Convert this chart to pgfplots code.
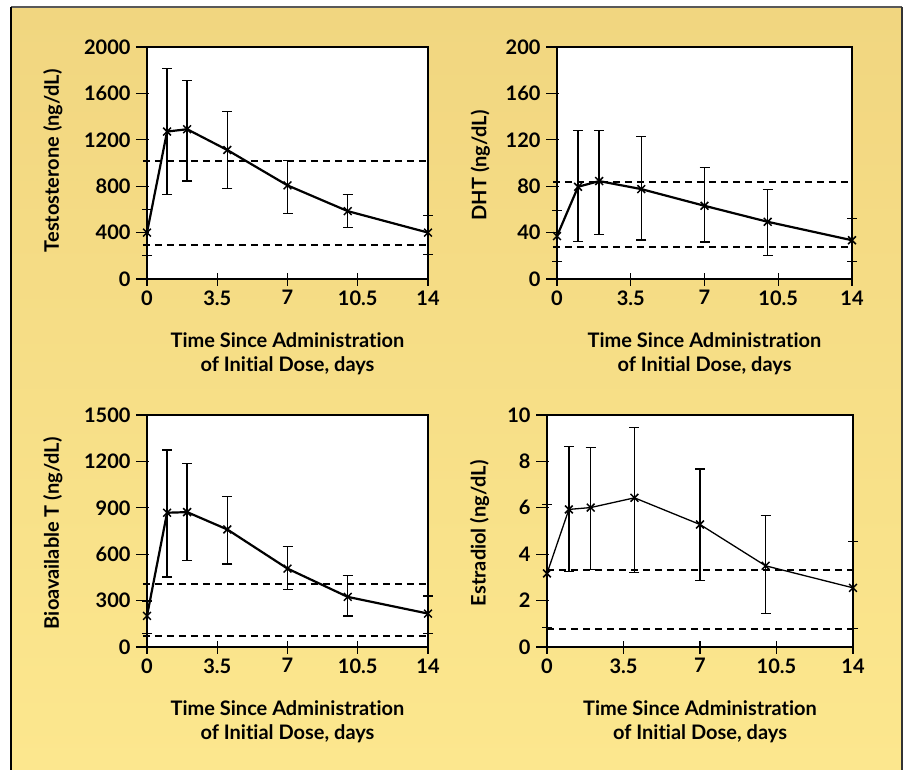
\documentclass[border=0pt]{standalone}
\usepackage{pgfplots}
\pgfplotsset{compat=1.18}
\usepackage{fontspec}
\setmainfont[Ligatures=NoCommon]{Lato}
\definecolor{bgtop}{RGB}{241,214,128}
\definecolor{bgbot}{RGB}{252,231,142}
\pgfplotsset{
  panel/.style={
    scale only axis, width=281pt, height=232pt,
    xmin=0, xmax=14, ymin=0,
    clip=false,
    axis background/.style={fill=white},
    axis line style={line width=1.3pt},
    xtick={0,3.5,7,10.5,14},
    xticklabels={0,3.5,7,10.5,14},
    xtick pos=left, ytick pos=left,
    tick align=outside,
    major tick length=13pt,
    xtick style={line width=1.3pt, black, yshift=6pt},
    ytick style={line width=1.3pt, black, xshift=2pt},
    /pgf/number format/assume math mode=true,
    /pgf/number format/1000 sep={},
    ticklabel style={font=\bfseries\fontsize{20}{22}\selectfont},
    xticklabel style={yshift=5pt},
    yticklabel style={xshift=0pt},
    xlabel style={font=\bfseries\fontsize{20}{24}\selectfont, align=center, at={(axis description cs:0.5,-0.232)}, anchor=north, inner sep=0pt},
    every axis y label/.style={font=\bfseries\fontsize{20}{22}\selectfont, rotate=90, anchor=center},
    xlabel={Time Since Administration\\of Initial Dose, days},
  },
  mainline/.style={black, line width=2.2pt, mark=x, mark size=5.5pt, mark options={line width=1.5pt},
    error bars/y dir=both, error bars/y explicit,
    error bars/error bar style={line width=1.3pt},
    error bars/error mark options={line width=1.3pt, mark size=5pt, rotate=90}},
  dashline/.style={black, line width=2pt, dash pattern=on 7pt off 5pt, no marks},
}
\begin{document}
\begin{tikzpicture}
\useasboundingbox (0,0) rectangle (907pt,770pt);
\fill[white] (0,0) rectangle (907pt,770pt);
\shade[top color=bgtop, bottom color=bgbot] (11pt,0pt) rectangle (902pt,763pt);
\draw[line width=1.5pt, black!65] (11pt,763pt) -- (902pt,763pt);
\draw[line width=2pt, black] (11pt,0pt) -- (11pt,763pt);
\draw[line width=2pt, black!80] (902pt,0pt) -- (902pt,763pt);

% Panel 1: Testosterone
\begin{axis}[panel, at={(147pt,491pt)}, anchor=south west,
  ymax=2000, ytick={0,400,800,1200,1600,2000},
  ylabel={Testosterone (ng/dL)},
  ylabel style={at={(axis description cs:-0.335,0.51)}}]
\addplot[dashline] coordinates {(-0.2,1020) (14,1020)};
\addplot[dashline] coordinates {(-0.2,290) (14,290)};
\addplot[mainline] coordinates {
 (0,400) += (0,200) -= (0,195)
 (1,1271) += (0,542) -= (0,542)
 (2,1291) += (0,421) -= (0,447)
 (4,1112) += (0,332) -= (0,331)
 (7,807) += (0,213) -= (0,242)
 (10,585) += (0,141) -= (0,141)
 (14,400) += (0,150) -= (0,190)
};
\end{axis}

% Panel 2: DHT
\begin{axis}[panel, at={(557pt,491pt)}, anchor=south west, width=295pt,
  ymax=200, ytick={0,40,80,120,160,200},
  ylabel={DHT (ng/dL)},
  ylabel style={at={(axis description cs:-0.26,0.49)}}]
\addplot[dashline] coordinates {(-0.2,83.3) (14,83.3)};
\addplot[dashline] coordinates {(-0.2,27.7) (14,27.7)};
\addplot[mainline] coordinates {
 (0,37) += (0,22) -= (0,22)
 (1,79.5) += (0,48.5) -= (0,47)
 (2,84.4) += (0,43.6) -= (0,45.8)
 (4,77.5) += (0,45.5) -= (0,43.8)
 (7,63.1) += (0,33.2) -= (0,31.1)
 (10,49.3) += (0,27.9) -= (0,29.1)
 (14,33.4) += (0,19) -= (0,18.1)
};
\end{axis}

% Panel 3: Bioavailable T
\begin{axis}[panel, at={(147pt,123pt)}, anchor=south west,
  ymax=1500, ytick={0,300,600,900,1200,1500},
  ylabel={Bioavailable T (ng/dL)},
  ylabel style={at={(axis description cs:-0.335,0.49)}}]
\addplot[dashline] coordinates {(-0.2,410) (14,410)};
\addplot[dashline] coordinates {(-0.2,69) (14,69)};
\addplot[mainline] coordinates {
 (0,201) += (0,97) -= (0,115)
 (1,868) += (0,405) -= (0,415)
 (2,872) += (0,315) -= (0,313)
 (4,760) += (0,215) -= (0,223)
 (7,507) += (0,145) -= (0,136)
 (10,324) += (0,138) -= (0,123)
 (14,216) += (0,114) -= (0,130)
};
\end{axis}

% Panel 4: Estradiol
\begin{axis}[panel, at={(547pt,123pt)}, anchor=south west, width=306pt,
  ymax=10, ytick={0,2,4,6,8,10},
  ylabel={Estradiol (ng/dL)},
  ylabel style={at={(axis description cs:-0.22,0.49)}}]
\addplot[dashline] coordinates {(0,3.34) (14,3.34)};
\addplot[dashline] coordinates {(0,0.79) (14,0.79)};
\addplot[mainline, line width=1.3pt] coordinates {
 (0,3.17) += (0,2.97) -= (0,2.34)
 (1,5.93) += (0,2.70) -= (0,2.69)
 (2,6.01) += (0,2.58) -= (0,2.67)
 (4,6.43) += (0,3.02) -= (0,3.22)
 (7,5.28) += (0,2.39) -= (0,2.40)
 (10,3.50) += (0,2.18) -= (0,2.06)
 (14,2.55) += (0,2.01) -= (0,1.74)
};
\end{axis}
\end{tikzpicture}
\end{document}
